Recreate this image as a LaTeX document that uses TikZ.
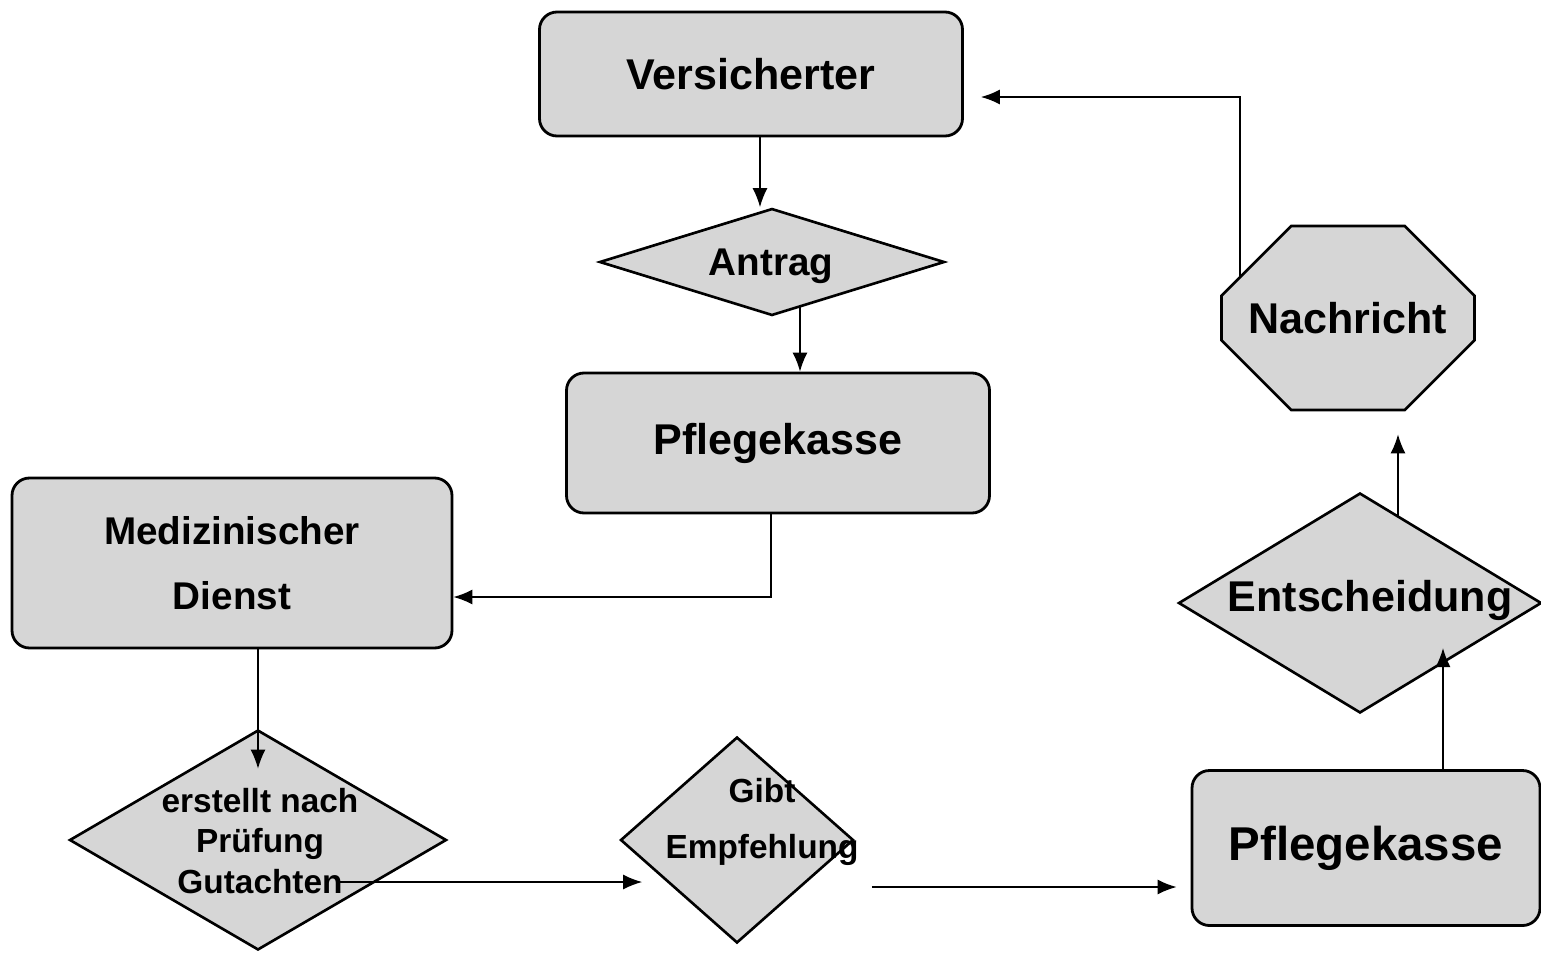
\documentclass[tikz,border=0pt]{standalone}
\usepackage{fontspec}
\setmainfont{Liberation Sans}
\usetikzlibrary{shapes.geometric,shapes.misc,arrows.meta,backgrounds}
\definecolor{boxgray}{gray}{0.84}

\begin{document}
\begin{tikzpicture}[
    box/.style={draw, line width=1.6pt, fill=boxgray, rounded corners=.35cm, align=center,
        font=\bfseries\fontsize{24.5}{37}\selectfont},
    diam/.style={draw, diamond, line width=1.5pt, fill=boxgray, inner sep=0pt},
    oct/.style={draw, chamfered rectangle, chamfered rectangle xsep=1.04cm,
        chamfered rectangle ysep=1.08cm, line width=1.5pt, fill=boxgray, inner sep=0pt,
        font=\bfseries\fontsize{24.5}{30}\selectfont},
    txt/.style={align=center, font=\bfseries\fontsize{19}{23}\selectfont},
    arr/.style={->, >={Latex[length=3.8mm,width=3mm]}, line width=.9pt}
]
\useasboundingbox (0,0) rectangle (30.82,-19.04);

% boxes
\node[box, minimum width=8.46cm, minimum height=2.48cm] (vers) at (15.02,-1.48) {Versicherter};
\node[box, minimum width=8.46cm, minimum height=2.8cm] (pk1) at (15.56,-8.86) {Pflegekasse};
\node[box, minimum width=8.8cm, minimum height=3.4cm, font=\bfseries\fontsize{22}{37}\selectfont] (med) at (4.64,-11.26) {Medizinischer\\Dienst};
\node[box, minimum width=6.96cm, minimum height=3.1cm, font=\bfseries\fontsize{27}{32}\selectfont] (pk2) at (27.32,-16.96) {Pflegekasse};
\node[oct, minimum width=5.06cm, minimum height=3.68cm] (nach) at (26.96,-6.36) {Nachricht};

% diamonds
\node[diam, minimum width=6.9cm, minimum height=2.14cm] (antrag) at (15.44,-5.24) {};
\node[diam, minimum width=7.54cm, minimum height=4.4cm] (erst) at (5.16,-16.8) {};
\node[diam, minimum width=4.66cm, minimum height=4.12cm] (gibt) at (14.74,-16.8) {};
\node[diam, minimum width=7.26cm, minimum height=4.4cm] (ents) at (27.2,-12.06) {};

\node[txt, font=\bfseries\fontsize{22}{26}\selectfont] (antrag-t) at (15.42,-5.32) {Antrag};
\node[txt] (erst-t) at (5.2,-16.82) {erstellt nach\\Prüfung\\Gutachten};
\node[txt, font=\bfseries\fontsize{19}{32}\selectfont] (gibt-t) at (15.24,-16.44) {Gibt\\Empfehlung};
\node[txt, font=\bfseries\fontsize{24.5}{30}\selectfont] (ents-t) at (27.4,-12.0) {Entscheidung};

% connectors
\coordinate (v1) at ([xshift=.18cm]vers.south);
\draw[arr] (v1) -- (v1 |- antrag.north);
\coordinate (p1) at ([xshift=-.14cm]pk1.south);
\draw[arr] (p1) |- ([yshift=-.68cm]med.east);
\draw[arr] (erst.north |- med.south) -- ([yshift=-.8cm]erst.north);
\coordinate (e1) at ([shift={(1.64,-.84)}]erst.center);
\draw[arr, shorten >=-.46cm] (e1) -- (gibt.west |- e1);
\coordinate (g1) at ([shift={(.34,-.94)}]gibt.east);
\draw[arr, shorten >=.28cm] (g1) -- (pk2.west |- g1);
\coordinate (p2) at ([xshift=1.54cm]pk2.north);
\draw[arr, shorten >=.9cm] (p2) -- (p2 |- ents.center);

\begin{scope}[on background layer]
    \coordinate (a1) at ([xshift=.56cm]antrag.center);
    \draw[arr] (a1) -- (a1 |- pk1.north);
    \coordinate (d1) at ([xshift=.76cm]ents.center);
    \draw[arr, shorten >=.46cm] (d1) -- (d1 |- nach.south);
    \coordinate (n1) at ([xshift=-2.16cm]nach.center);
    \draw[arr, shorten >=.34cm] (n1) |- ([yshift=-.46cm]vers.east);
\end{scope}

\end{tikzpicture}
\end{document}
